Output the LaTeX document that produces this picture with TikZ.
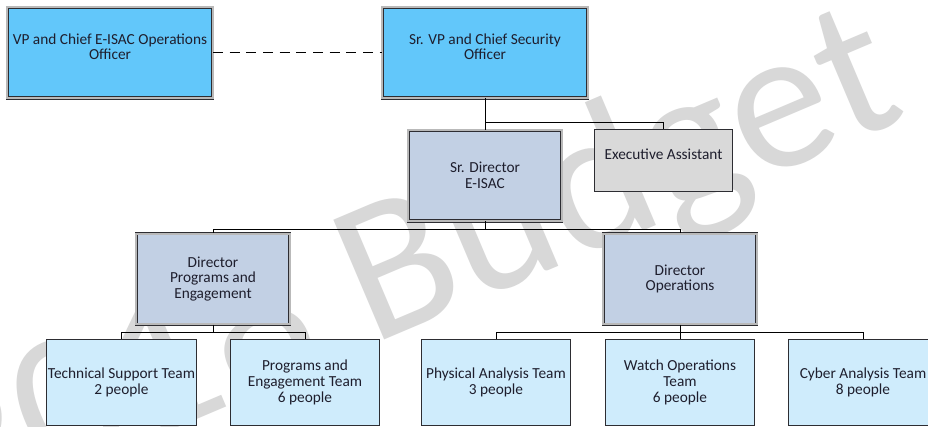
\documentclass[tikz,border=0pt]{standalone}
\usepackage{fontspec}
\setmainfont{Carlito}
\definecolor{chiefblue}{RGB}{98,199,250}
\definecolor{dirblue}{RGB}{194,208,228}
\definecolor{teamblue}{RGB}{207,236,252}
\definecolor{assistgray}{RGB}{217,217,217}
\definecolor{framegray}{RGB}{45,45,50}
\definecolor{textnavy}{RGB}{30,30,45}
\definecolor{markgray}{RGB}{216,216,216}

\begin{document}
\begin{tikzpicture}[x=0.75pt,y=-0.75pt,
        every node/.style={inner sep=0pt, align=center, text=textnavy, font=\fontsize{11.5}{11.8}\selectfont},
        framed/.style={draw=framegray, line width=0.6pt, double=gray!55, double distance=1.3pt},
        chief/.style={framed, fill=chiefblue, minimum width=154pt, minimum height=68pt},
        director/.style={framed, fill=dirblue, minimum width=115pt, minimum height=68pt},
        assist/.style={draw=framegray, line width=0.75pt, fill=assistgray, minimum width=103pt, minimum height=46pt},
        team/.style={draw=framegray, line width=0.75pt, fill=teamblue, minimum width=112pt, minimum height=64pt},
        link/.style={draw=black, line width=0.75pt}]
        \useasboundingbox[fill=white] (0,0) rectangle (928,426);
        \node[text=markgray, font=\fontsize{152}{152}\selectfont, rotate=23] (mark) at (410,272) {2018 Budget};

        \node[chief] (vp) at (110,52.5) {VP and Chief E-ISAC Operations\\Officer\\[-3pt] \mbox{}};
        \node[chief] (srvp) at (485,52.5) {Sr. VP and Chief Security\\Officer\\[-3pt] \mbox{}};
        \node[director] (srdir) at (485,175.5) {Sr. Director\\E-ISAC};
        \node[assist] (exec) at (663.5,160.5) {Executive Assistant\\[-3pt] \mbox{}};
        \node[director] (dirprog) at (213,279) {Director\\Programs and\\Engagement};
        \node[director] (dirops) at (680,279) {Director\\Operations};
        \node[team] (tech) at (121.5,382.5) {Technical Support Team\\2 people};
        \node[team] (progteam) at (305,382.5) {Programs and\\Engagement Team\\6 people};
        \node[team] (phys) at (496,382.5) {Physical Analysis Team\\3 people};
        \node[team] (watch) at (680,382.5) {Watch Operations\\Team\\6 people};
        \node[team] (cyber) at (863,382.5) {Cyber Analysis Team\\8 people};

        \draw[link, dashed, dash pattern=on 7.5pt off 5pt] (vp.east) -- (srvp.west);
        \draw[link] (srvp.south) -- (srdir.north);
        \draw[link] (srvp.south) ++(0,24) -| (exec.north);
        \draw[link] (srdir.south) ++(0,8) -| (dirprog.north);
        \draw[link] (srdir.south) -- ++(0,8) -| (dirops.north);
        \draw[link] (dirprog.south) ++(0,8) -| (tech.north);
        \draw[link] (dirprog.south) -- ++(0,8) -| (progteam.north);
        \draw[link] (dirops.south) ++(0,8) -| (phys.north);
        \draw[link] (dirops.south) -- (watch.north);
        \draw[link] (dirops.south) ++(0,8) -| (cyber.north);
\end{tikzpicture}
\end{document}
